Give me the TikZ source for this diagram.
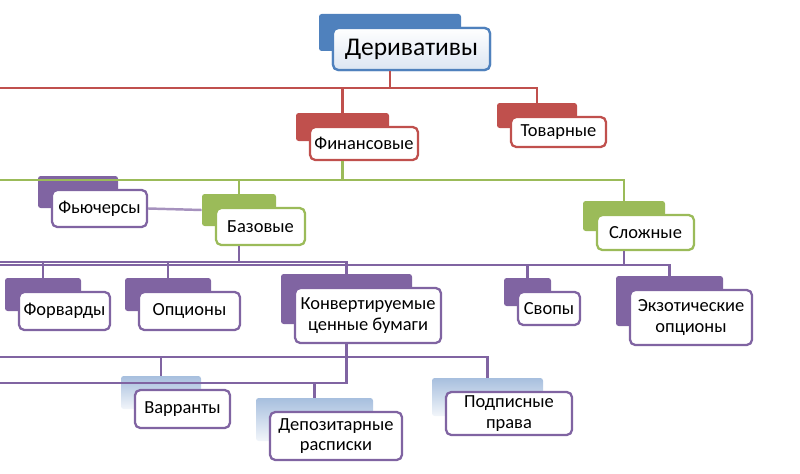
\documentclass[tikz,border=0pt]{standalone}
\usepackage{fontspec}
\setmainfont{Carlito}
\definecolor{blu}{HTML}{4F81BD}
\definecolor{rd}{HTML}{C0504D}
\definecolor{grn}{HTML}{9BBB59}
\definecolor{prp}{HTML}{8064A2}
\definecolor{lblu}{HTML}{A7BFDE}
\tikzset{
  back/.style={draw=none,rounded corners=1.5pt,inner sep=0pt},
  front/.style={draw=#1,line width=1.3pt,fill=white,rounded corners=3pt,inner sep=0pt,
    align=center,font=\fontsize{10.5}{11.5}\selectfont},
  link/.style={draw=#1,line width=1.4pt},
}
% #1 name, #2 back fill, #3 border, #4 cx, #5 cy, #6 w, #7 h, #8 text
\newcommand\duo[8]{%
  \node[back,#2,minimum width={(#6-15)*0.02cm},minimum height={(#7-5)*0.02cm}]
    (#1b) at (#4-21.5,#5-16.5) {};
  \node[front=#3,minimum width={#6*0.02cm},minimum height={#7*0.02cm}]
    (#1) at (#4,#5) {#8};
}
\begin{document}
\begin{tikzpicture}[x=0.02cm,y=-0.02cm]
  \useasboundingbox (0,0) rectangle (800,473);

  % boxes
  \duo{der}{fill=blu}{blu}{411.5}{49}{157}{42}{\fontsize{14.5}{16}\selectfont Деривативы}
  \node[front=blu,top color=white,bottom color=lblu!40,minimum width=3.14cm,minimum height=0.84cm]
    at (der) {\fontsize{14.5}{16}\selectfont Деривативы};
  \duo{fin}{fill=rd}{rd}{364}{143.5}{108}{33}{Финансовые}
  \duo{tov}{fill=rd}{rd}{558.5}{132}{95}{30}{Товарные}
  \duo{fut}{fill=prp}{prp}{99.5}{208.5}{95}{37}{Фьючерсы}
  \duo{baz}{fill=grn}{grn}{260.5}{226.5}{89}{37}{Базовые}
  \duo{slo}{fill=grn}{grn}{645.5}{232.5}{97}{35}{Сложные}
  \duo{for}{fill=prp}{prp}{64.5}{311}{91}{38}{Форварды}
  \duo{opc}{fill=prp}{prp}{189.5}{311}{101}{38}{Опционы}
  \duo{kon}{fill=prp}{prp}{368}{315.5}{146}{55}{Конвертируемые\\ценные бумаги}
  \duo{svo}{fill=prp}{prp}{549}{308.5}{62}{33}{Свопы}
  \duo{exo}{fill=prp}{prp}{691}{317.5}{122}{55}{Экзотические\\опционы}
  \duo{var}{top color=lblu,bottom color=lblu!15}{prp}{182.5}{409}{95}{38}{Варранты}
  \duo{dep}{top color=lblu,bottom color=lblu!15}{prp}{336}{436}{132}{48}{Депозитарные\\расписки}
  \duo{pod}{top color=lblu,bottom color=lblu!15}{prp}{509}{413.5}{126}{43}{Подписные\\права}

  % connectors
  \foreach \c in {fin,tov}
    \draw[link=rd] (derb.center |- der.south) |- (0,88) -| (\c b.north);
  \foreach \c in {baz,slo}
    \draw[link=grn] (finb.center |- fin.south) |- (0,180) -| (\c b.north);
  \foreach \c in {for,opc,kon}
    \draw[link=prp] (bazb.center |- baz.south) |- (0,262) -| (\c b.north);
  \foreach \c in {svo,exo}
    \draw[link=prp] (slob.center |- slo.south) |- (0,265) -| (\c b.north);
  \foreach \c in {var,pod}
    \draw[link=prp] (konb.center |- kon.south) |- (0,357) -| (\c b.north);
  \draw[link=prp] (konb.center |- kon.south) |- (0,383) -| (depb.north);
  \draw[link=prp!70] (fut.east) -- (bazb.west);
\end{tikzpicture}
\end{document}
